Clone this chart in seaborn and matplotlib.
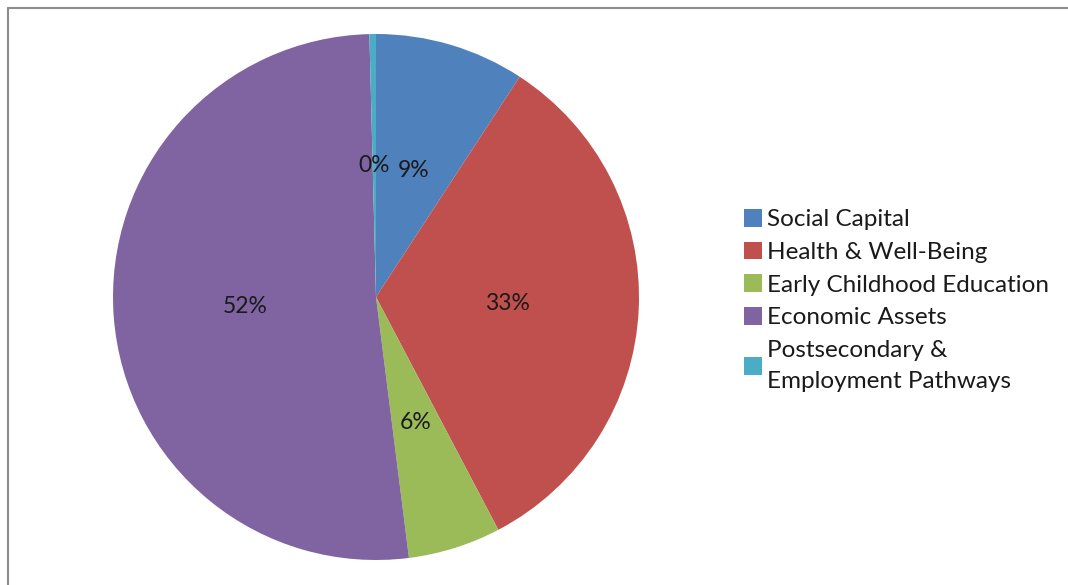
import matplotlib
matplotlib.use("Agg")
import matplotlib.pyplot as plt
from matplotlib.lines import Line2D
import seaborn as sns

# Share of funding by focus area (percent)
categories = [
    "Social Capital",
    "Health & Well-Being",
    "Early Childhood Education",
    "Economic Assets",
    "Postsecondary &\nEmployment Pathways",
]
shares = [9.2, 33.1, 5.7, 51.6, 0.4]
colors = ["#4F81BD", "#C0504D", "#9BBB59", "#8064A2", "#4BACC6"]

sns.set_theme(style="white")
plt.rcParams["font.family"] = ["Lato", "DejaVu Sans"]

W, H = 1068, 585
fig = plt.figure(figsize=(W / 100, H / 100), dpi=100)
fig.patch.set_facecolor("white")

# pie axes: center (376, 297) px, radius 263 px
cx, cy, r = 376, 297, 263
ax = fig.add_axes([(cx - r) / W, (H - cy - r) / H, 2 * r / W, 2 * r / H])
wedges, texts, autotexts = ax.pie(
    shares,
    colors=colors,
    startangle=90,
    counterclock=False,
    radius=1.0,
    autopct="%.0f%%",
    pctdistance=0.5,
    wedgeprops=dict(linewidth=0),
    textprops=dict(fontsize=16.5, color="#1a1a1a"),
)
ax.set_xlim(-1, 1)
ax.set_ylim(-1, 1)
ax.set_aspect("equal")
ax.axis("off")

leg = fig.legend(
    wedges,
    categories,
    loc="upper left",
    bbox_to_anchor=(744 / W, 1 - 209 / H),
    frameon=False,
    fontsize=17.5,
    handlelength=0.75,
    handleheight=0.75,
    handletextpad=0.2,
    labelspacing=0.465,
    borderaxespad=0,
    borderpad=0,
    labelcolor="#1a1a1a",
)
for t in leg.get_texts():
    t.set_linespacing(1.6)

# chart frame (top and left edges)
fig.add_artist(Line2D([8 / W, 1], [1 - 8 / H, 1 - 8 / H], color="#8c8c8c", lw=1.5,
                      transform=fig.transFigure))
fig.add_artist(Line2D([8 / W, 8 / W], [0, 1 - 8 / H], color="#8c8c8c", lw=1.5,
                      transform=fig.transFigure))

fig.savefig("out.png", dpi=100, facecolor="white")
